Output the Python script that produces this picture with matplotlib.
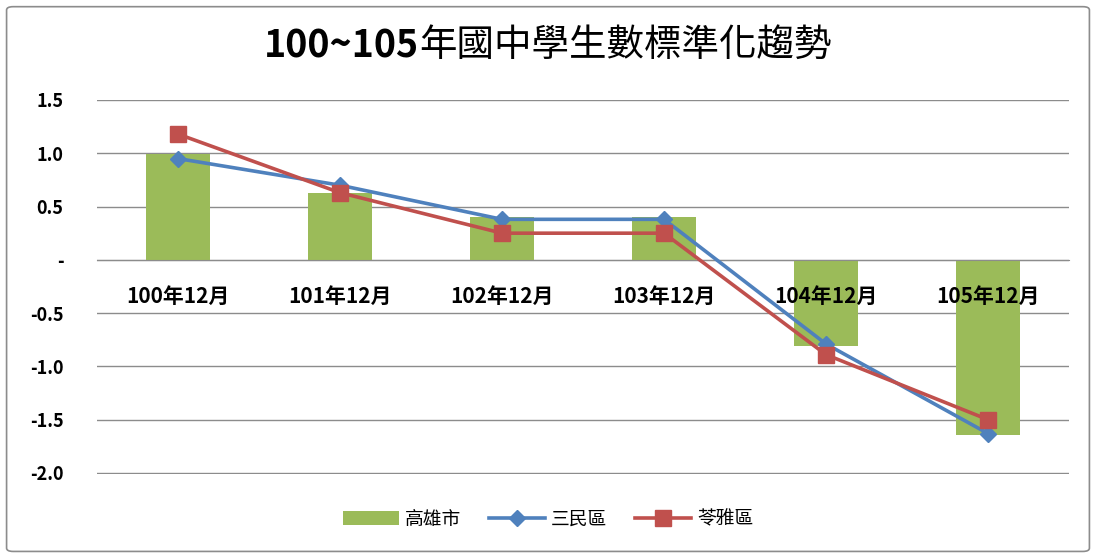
# 100~105年國中學生數標準化趨勢 - bar + line combo
import numpy as np
import matplotlib.pyplot as plt
from matplotlib.patches import FancyBboxPatch

plt.rcParams['font.family'] = ['Noto Sans CJK TC', 'DejaVu Sans']

months = ['100年12月', '101年12月', '102年12月', '103年12月', '104年12月', '105年12月']
kaohsiung = [0.99, 0.63, 0.40, 0.40, -0.81, -1.64]
sanmin = [0.95, 0.70, 0.38, 0.38, -0.79, -1.63]
lingya = [1.18, 0.63, 0.25, 0.25, -0.89, -1.50]
yticks = [1.5, 1.0, 0.5, 0.0, -0.5, -1.0, -1.5, -2.0]
ytick_labels = ['1.5', '1.0', '0.5', '-', '-0.5', '-1.0', '-1.5', '-2.0']

fig = plt.figure(figsize=(10.96, 5.57), dpi=100)
ax = fig.add_axes([0.0885, 0.149, 0.8869, 0.6715])

# outer frame of the chart
frame = FancyBboxPatch((0.006, 0.01), 0.988, 0.978, boxstyle='round,pad=0,rounding_size=0.006',
                       transform=fig.transFigure, fill=False, edgecolor='#8c8c8c', linewidth=1.2)
fig.patches.append(frame)

x = np.arange(len(months))
bars = ax.bar(x, kaohsiung, width=0.4, color='#9BBB59', label='高雄市', zorder=1)
l1, = ax.plot(x, sanmin, color='#4F81BD', linewidth=2.6, marker='D', markersize=8, label='三民區', zorder=3)
l2, = ax.plot(x, lingya, color='#C0504D', linewidth=2.6, marker='s', markersize=11, label='苓雅區', zorder=4)

ax.set_xlim(-0.5, len(months) - 0.5)
ax.set_ylim(-2.01, 1.5)
ax.spines['bottom'].set_position(('data', 0))
ax.spines['bottom'].set_color('#8c8c8c')
for s in ['top', 'left', 'right']:
    ax.spines[s].set_visible(False)
ax.set_yticks(yticks)
ax.set_yticklabels(ytick_labels, fontsize=13, fontweight='bold')
ax.yaxis.grid(True, color='#8c8c8c', linewidth=1)
ax.set_axisbelow(True)
ax.set_xticks([])
ax.tick_params(axis='both', length=0)
ax.tick_params(axis='y', pad=24)

# category labels sit just under the zero line, above the bars
for i, m in enumerate(months):
    ax.annotate(m, (x[i], 0), xytext=(0, -26), textcoords='offset points',
                ha='center', va='center', fontsize=15, fontweight='bold', zorder=5)

# title: bold digits, regular CJK
t1 = fig.text(0.5, 0.918, '100~105', ha='left', va='center', fontsize=27, fontweight='bold')
t2 = fig.text(0.5, 0.918, '年國中學生數標準化趨勢', ha='left', va='center', fontsize=27)
r = fig.canvas.get_renderer()
w1 = t1.get_window_extent(r).width / fig.bbox.width
w2 = t2.get_window_extent(r).width / fig.bbox.width
start = 0.5 - (w1 + w2) / 2
t1.set_x(start)
t2.set_x(start + w1)

fig.legend([bars, l1, l2], ['高雄市', '三民區', '苓雅區'], loc='center',
           bbox_to_anchor=(0.5, 0.068), ncol=3, frameon=False,
           fontsize=13.5, handlelength=3.0, columnspacing=1.5, handletextpad=0.3)

fig.savefig('out.png', dpi=100)
